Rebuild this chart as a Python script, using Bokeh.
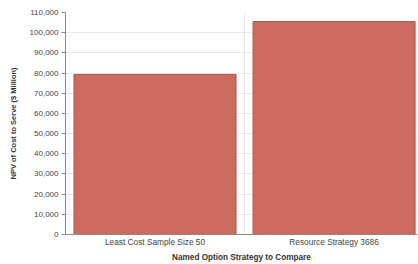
from bokeh.plotting import figure
from bokeh.models import Range1d, FixedTicker, NumeralTickFormatter, ColumnDataSource
from bokeh.embed import file_html
from bokeh.resources import INLINE

categories = ["Least Cost Sample Size 50", "Resource Strategy 3686"]
npv_values = [79300, 105500]
y_ticks = list(range(0, 110001, 10000))

x_pos = [i + 0.5 for i in range(len(categories))]
src = ColumnDataSource(dict(x=x_pos, top=npv_values))

p = figure(width=418, height=264, output_backend="svg", toolbar_location=None,
           x_range=Range1d(0, 1.966), y_range=Range1d(0, 110000),
           min_border_left=65, min_border_right=1, min_border_top=12, min_border_bottom=30)
p.outline_line_color = None
p.background_fill_color = "white"

p.vbar(x="x", top="top", width=0.905, source=src, fill_color="#CD6B5E",
       line_color="#A95A50", line_width=1)

FONT = "Liberation Sans"
p.yaxis.ticker = FixedTicker(ticks=y_ticks)
p.yaxis.formatter = NumeralTickFormatter(format="0,0")
p.yaxis.axis_label = "NPV of Cost to Serve ($ Million)"
p.yaxis.axis_label_text_font = FONT
p.yaxis.axis_label_text_font_size = "7.5px"
p.yaxis.axis_label_text_font_style = "bold"
p.yaxis.axis_label_text_color = "#333333"
p.yaxis.axis_label_standoff = 9
p.yaxis.major_label_text_font = FONT
p.yaxis.major_label_text_font_size = "8px"
p.yaxis.major_label_text_color = "#444444"
p.yaxis.major_label_standoff = 3
p.yaxis.major_tick_out = 4
p.yaxis.major_tick_in = 0
p.yaxis.minor_tick_out = 0
p.yaxis.minor_tick_in = 0
p.yaxis.axis_line_color = "#888888"
p.yaxis.major_tick_line_color = "#888888"

p.xaxis.ticker = FixedTicker(ticks=x_pos)
p.xaxis.major_label_overrides = {x: c for x, c in zip(x_pos, categories)}
p.xaxis.axis_label = "Named Option Strategy to Compare"
p.xaxis.axis_label_text_font = FONT
p.xaxis.axis_label_text_font_size = "8.2px"
p.xaxis.axis_label_text_font_style = "bold"
p.xaxis.axis_label_text_color = "#333333"
p.xaxis.axis_label_standoff = 3
p.xaxis.major_label_text_font = FONT
p.xaxis.major_label_text_font_size = "8.3px"
p.xaxis.major_label_text_color = "#444444"
p.xaxis.major_label_standoff = 2
p.xaxis.major_tick_out = 0
p.xaxis.major_tick_in = 0
p.xaxis.minor_tick_out = 0
p.xaxis.axis_line_color = "#888888"

p.ygrid.ticker = FixedTicker(ticks=y_ticks)
p.ygrid.grid_line_color = "#E8E8E8"
p.xgrid.ticker = FixedTicker(ticks=[1.0])
p.xgrid.grid_line_color = "#E8E8E8"

open("out.html", "w").write(file_html(p, INLINE))
